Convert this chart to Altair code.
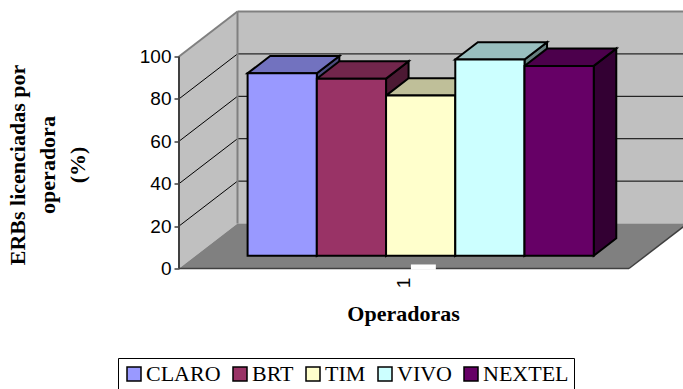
import altair as alt
import pandas as pd

# ---- data ----
OPERADORAS = ["CLARO", "BRT", "TIM", "VIVO", "NEXTEL"]
VALORES = [86.0, 83.5, 75.5, 92.5, 89.5]
CORES = ["#9999FF", "#993366", "#FFFFCC", "#CCFFFF", "#660066"]
Y_TICKS = [0, 20, 40, 60, 80, 100]
CATEGORIA = ["1"]

# ---- 3D (oblique) layout parameters, in data units ----
GAP = 0.75                      # gap on each side of the group (Excel gap width 150%)
N = len(OPERADORAS)
FLOOR_W = N + 2 * GAP
WALL_DX = 0.845                 # depth of the box along x
WALL_DY = 21.2                  # depth of the box along y
F0 = 0.285                      # bar front plane (fraction of depth)
FD = 0.385                      # bar depth (fraction of depth)
X_MAX = 7.28
Y_MAX = 100 + WALL_DY
X_END = X_MAX + 0.3


def shade(hexc, f):
    h = hexc.lstrip("#")
    r, g, b = (int(h[i:i + 2], 16) for i in (0, 2, 4))
    return "#%02X%02X%02X" % (int(r * f), int(g * f), int(b * f))


# ---- derived tables ----
bx0 = GAP + F0 * WALL_DX
by0 = F0 * WALL_DY
ddx = FD * WALL_DX
ddy = FD * WALL_DY

fronts, tops, sides = [], [], []
for i, (name, v, c) in enumerate(zip(OPERADORAS, VALORES, CORES)):
    x0 = bx0 + i
    x1 = x0 + 1
    fronts.append({"name": name, "x": x0, "x2": x1, "y": by0, "y2": by0 + v})
    tops.append({"gid": name, "fill": shade(c, 0.75), "y": by0 + v, "x": x0, "x2": x1})
    tops.append({"gid": name, "fill": shade(c, 0.75), "y": by0 + v + ddy, "x": x0 + ddx, "x2": x1 + ddx})
    sides.append({"gid": name, "fill": shade(c, 0.5), "x": x1, "y": by0, "y2": by0 + v})
    sides.append({"gid": name, "fill": shade(c, 0.5), "x": x1 + ddx, "y": by0 + ddy, "y2": by0 + v + ddy})

df_front = pd.DataFrame(fronts)
df_top = pd.DataFrame(tops)
df_side = pd.DataFrame(sides)

df_back = pd.DataFrame({"x": [WALL_DX], "x2": [X_END], "y": [WALL_DY], "y2": [Y_MAX]})
df_left = pd.DataFrame({"x": [0, WALL_DX], "y": [0, WALL_DY], "y2": [100, Y_MAX]})
df_floor = pd.DataFrame({"y": [0, WALL_DY], "x": [0, WALL_DX], "x2": [FLOOR_W, FLOOR_W + WALL_DX]})

lines = []
for v in Y_TICKS[1:-1]:
    lines.append({"x": WALL_DX, "x2": X_END, "y": v + WALL_DY, "y2": v + WALL_DY, "c": "#000000", "w": 1})
    lines.append({"x": 0, "x2": WALL_DX, "y": v, "y2": v + WALL_DY, "c": "#000000", "w": 1})
lines += [
    {"x": WALL_DX, "x2": WALL_DX, "y": WALL_DY, "y2": Y_MAX, "c": "#808080", "w": 2},
    {"x": WALL_DX, "x2": X_END, "y": Y_MAX, "y2": Y_MAX, "c": "#808080", "w": 2},
    {"x": 0, "x2": WALL_DX, "y": 100, "y2": Y_MAX, "c": "#808080", "w": 2},
    {"x": 0, "x2": 0, "y": 0, "y2": 100, "c": "#404040", "w": 2},
    {"x": 0, "x2": FLOOR_W, "y": 0, "y2": 0, "c": "#404040", "w": 1.5},
    {"x": FLOOR_W, "x2": FLOOR_W + WALL_DX, "y": 0, "y2": WALL_DY, "c": "#404040", "w": 1.5},
]
df_lines = pd.DataFrame(lines)

df_notch = pd.DataFrame({"x": [3.35], "x2": [3.71], "y": [-0.6], "y2": [1.9]})
df_cat = pd.DataFrame({"label": CATEGORIA, "x": [3.243], "y": [-6.84]})

xs = alt.Scale(domain=[0, X_MAX], nice=False, zero=False)
ys = alt.Scale(domain=[0, Y_MAX], nice=False, zero=False)

x_axis = alt.Axis(
    title="Operadoras", labels=False, ticks=False, domain=False, grid=False,
    titleFont="Liberation Serif", titleFontSize=22, titleFontWeight="bold",
    titleColor="black", titleX=224, titleY=44.5, titleBaseline="middle", titleAlign="center",
)
y_axis = alt.Axis(
    values=Y_TICKS, title=["ERBs licenciadas por", "operadora", "(%)"],
    domain=False, grid=False, ticks=True, tickSize=5, tickColor="#404040", tickWidth=1.5,
    labelFont="Liberation Sans", labelFontSize=19, labelColor="black", labelPadding=3,
    titleFont="Liberation Serif", titleFontSize=22, titleFontWeight="bold", titleColor="black",
    titleAngle=270, titleX=-162, titleY=153, titleAlign="center", titleBaseline="middle",
    titleLineHeight=30,
)


def X(f="x", **kw):
    return alt.X(f"{f}:Q", scale=xs, axis=x_axis, **kw)


def Y(f="y", **kw):
    return alt.Y(f"{f}:Q", scale=ys, axis=y_axis, **kw)


back = alt.Chart(df_back).mark_rect(fill="#C0C0C0").encode(
    x=X("x"), x2="x2:Q", y=Y("y"), y2="y2:Q")
left = alt.Chart(df_left).mark_area(orient="vertical", fill="#C0C0C0").encode(
    x=X("x"), y=Y("y", stack=False), y2="y2:Q")
floor = alt.Chart(df_floor).mark_area(orient="horizontal", fill="#808080").encode(
    y=Y("y"), x=X("x", stack=False), x2="x2:Q")
rules = alt.Chart(df_lines).mark_rule().encode(
    x=X("x"), x2="x2:Q", y=Y("y"), y2="y2:Q",
    color=alt.Color("c:N", scale=None), strokeWidth=alt.StrokeWidth("w:Q", scale=None))
notch = alt.Chart(df_notch).mark_rect(fill="white").encode(
    x=X("x"), x2="x2:Q", y=Y("y"), y2="y2:Q")
cat = alt.Chart(df_cat).mark_text(angle=270, font="Liberation Sans", fontSize=19, color="black").encode(
    x=X("x"), y=Y("y"), text="label:N")

side = alt.Chart(df_side).mark_area(orient="vertical", stroke="black", strokeWidth=2, strokeJoin="miter").encode(
    x=X("x"), y=Y("y", stack=False), y2="y2:Q",
    color=alt.Color("fill:N", scale=None), detail="gid:N")
top = alt.Chart(df_top).mark_area(orient="horizontal", stroke="black", strokeWidth=2, strokeJoin="miter").encode(
    y=Y("y"), x=X("x", stack=False), x2="x2:Q",
    color=alt.Color("fill:N", scale=None), detail="gid:N")
front = alt.Chart(df_front).mark_rect(stroke="black", strokeWidth=2).encode(
    x=X("x"), x2="x2:Q", y=Y("y"), y2="y2:Q",
    color=alt.Color("name:N", scale=alt.Scale(domain=OPERADORAS, range=CORES),
                    legend=alt.Legend(
                        orient="none", legendX=-61, legendY=346.5, direction="horizontal",
                        columns=5, title=None, symbolType="square", symbolSize=196,
                        symbolStrokeColor="black", symbolStrokeWidth=1.5,
                        labelFont="Liberation Serif", labelFontSize=22, labelColor="black",
                        labelOffset=1, columnPadding=8, padding=5, strokeColor="black",
                        fillColor="white", labelLimit=300)),
)

chart = alt.layer(back, left, floor, rules, notch, cat, side, top, front).properties(
    width=504, height=257,
    autosize=alt.AutoSizeParams(type="none"),
    padding={"left": 179, "top": 11.5, "right": 0, "bottom": 120.5},
    background="white",
).configure_view(stroke="transparent")

chart.save("out.html", embed_options={"renderer": "svg", "actions": False})
